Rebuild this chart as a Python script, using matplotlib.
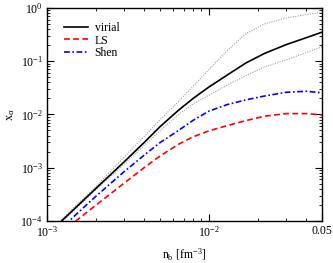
import matplotlib
matplotlib.use("Agg")
import matplotlib.pyplot as plt
from matplotlib.ticker import FixedLocator, NullFormatter, LogLocator

plt.rcParams['font.family'] = ['Liberation Serif', 'DejaVu Serif']
plt.rcParams['mathtext.fontset'] = 'custom'
plt.rcParams['mathtext.rm'] = 'Liberation Serif'
plt.rcParams['mathtext.it'] = 'Liberation Serif:italic'

nb = [1.0e-3, 1.5e-3, 2.0e-3, 3.0e-3, 4.0e-3, 5.0e-3, 6.5e-3, 8.0e-3,
      1.0e-2, 1.3e-2, 1.7e-2, 2.2e-2, 3.0e-2, 4.0e-2, 5.0e-2]

virial = [5.45e-5, 1.76e-4, 4.04e-4, 1.29e-3, 3.0e-3, 5.9e-3, 1.2e-2, 2.0e-2,
          3.26e-2, 5.5e-2, 9.3e-2, 0.139, 0.204, 0.276, 0.35]
virial_hi = [5.75e-5, 1.91e-4, 4.37e-4, 1.58e-3, 3.89e-3, 7.94e-3, 1.76e-2, 3.39e-2,
             6.92e-2, 0.158, 0.33, 0.50, 0.646, 0.75, 0.822]
virial_lo = [5.25e-5, 1.66e-4, 3.8e-4, 1.17e-3, 2.63e-3, 4.9e-3, 1.0e-2, 1.58e-2,
             2.29e-2, 3.55e-2, 5.37e-2, 7.76e-2, 0.105, 0.145, 0.186]
shen = [3.9e-5, 1.29e-4, 2.88e-4, 8.43e-4, 1.73e-3, 2.96e-3, 5.0e-3, 7.76e-3,
        1.15e-2, 1.53e-2, 1.88e-2, 2.21e-2, 2.6e-2, 2.72e-2, 2.54e-2]
ls = [3.63e-5, 9.84e-5, 1.96e-4, 5.13e-4, 1.01e-3, 1.66e-3, 2.75e-3, 3.8e-3,
      4.9e-3, 6.17e-3, 7.67e-3, 9.23e-3, 1.035e-2, 1.035e-2, 9.77e-3]

xticks = [1e-3, 1e-2, 5e-2]
xticklabels = [r'$\mathregular{10^{-3}}$', r'$\mathregular{10^{-2}}$', '0.05']
yticks = [1e-4, 1e-3, 1e-2, 1e-1, 1e0]
yticklabels = [r'$\mathregular{10^{-4}}$', r'$\mathregular{10^{-3}}$',
               r'$\mathregular{10^{-2}}$', r'$\mathregular{10^{-1}}$',
               r'$\mathregular{10^{0}}$']

fig = plt.figure(figsize=(3.33, 2.63), dpi=100)
ax = fig.add_axes([0.141, 0.160, 0.826, 0.810])

ax.plot(nb, virial_hi, color='#a0a0a0', lw=0.8, ls=(0, (1, 1.2)))
ax.plot(nb, virial_lo, color='#a0a0a0', lw=0.8, ls=(0, (1, 1.2)))
ax.plot(nb, virial, color='black', lw=1.2, label='virial')
ax.plot(nb, ls, color='#ff0000', lw=1.2, ls=(0, (3.5, 2)), label='LS')
ax.plot(nb, shen, color='#0000ff', lw=1.2, ls=(0, (3.5, 1.5, 1, 1.5)), label='Shen')

ax.set_xscale('log')
ax.set_yscale('log')
ax.set_xlim(1e-3, 5e-2)
ax.set_ylim(1e-4, 1e0)

ax.xaxis.set_major_locator(FixedLocator(xticks))
ax.set_xticklabels(xticklabels)
ax.xaxis.set_minor_locator(FixedLocator([2e-3, 3e-3, 4e-3, 5e-3, 6e-3, 7e-3, 8e-3, 9e-3,
                                         2e-2, 3e-2, 4e-2]))
ax.xaxis.set_minor_formatter(NullFormatter())
ax.yaxis.set_major_locator(FixedLocator(yticks))
ax.set_yticklabels(yticklabels)
ax.yaxis.set_minor_locator(LogLocator(base=10, subs=range(2, 10), numticks=20))
ax.yaxis.set_minor_formatter(NullFormatter())

ax.tick_params(which='both', direction='in', top=True, right=True, labelsize=8.5, pad=3)
ax.tick_params(which='major', length=5, width=0.8)
ax.tick_params(which='minor', length=2.5, width=0.6)
for s in ax.spines.values():
    s.set_linewidth(1.0)

ax.set_xlabel(r'n$_\mathregular{b}$ [fm$^\mathregular{-3}$]', fontsize=8.5, labelpad=5)
ax.set_ylabel(r'x$_\mathregular{\alpha}$', fontsize=9, labelpad=2)

ax.legend(loc='upper left', bbox_to_anchor=(0.045, 0.956), frameon=False, fontsize=8.5,
          handlelength=2.0, handletextpad=0.6, labelspacing=0.05, borderaxespad=0)

fig.savefig('out.png', dpi=100)
